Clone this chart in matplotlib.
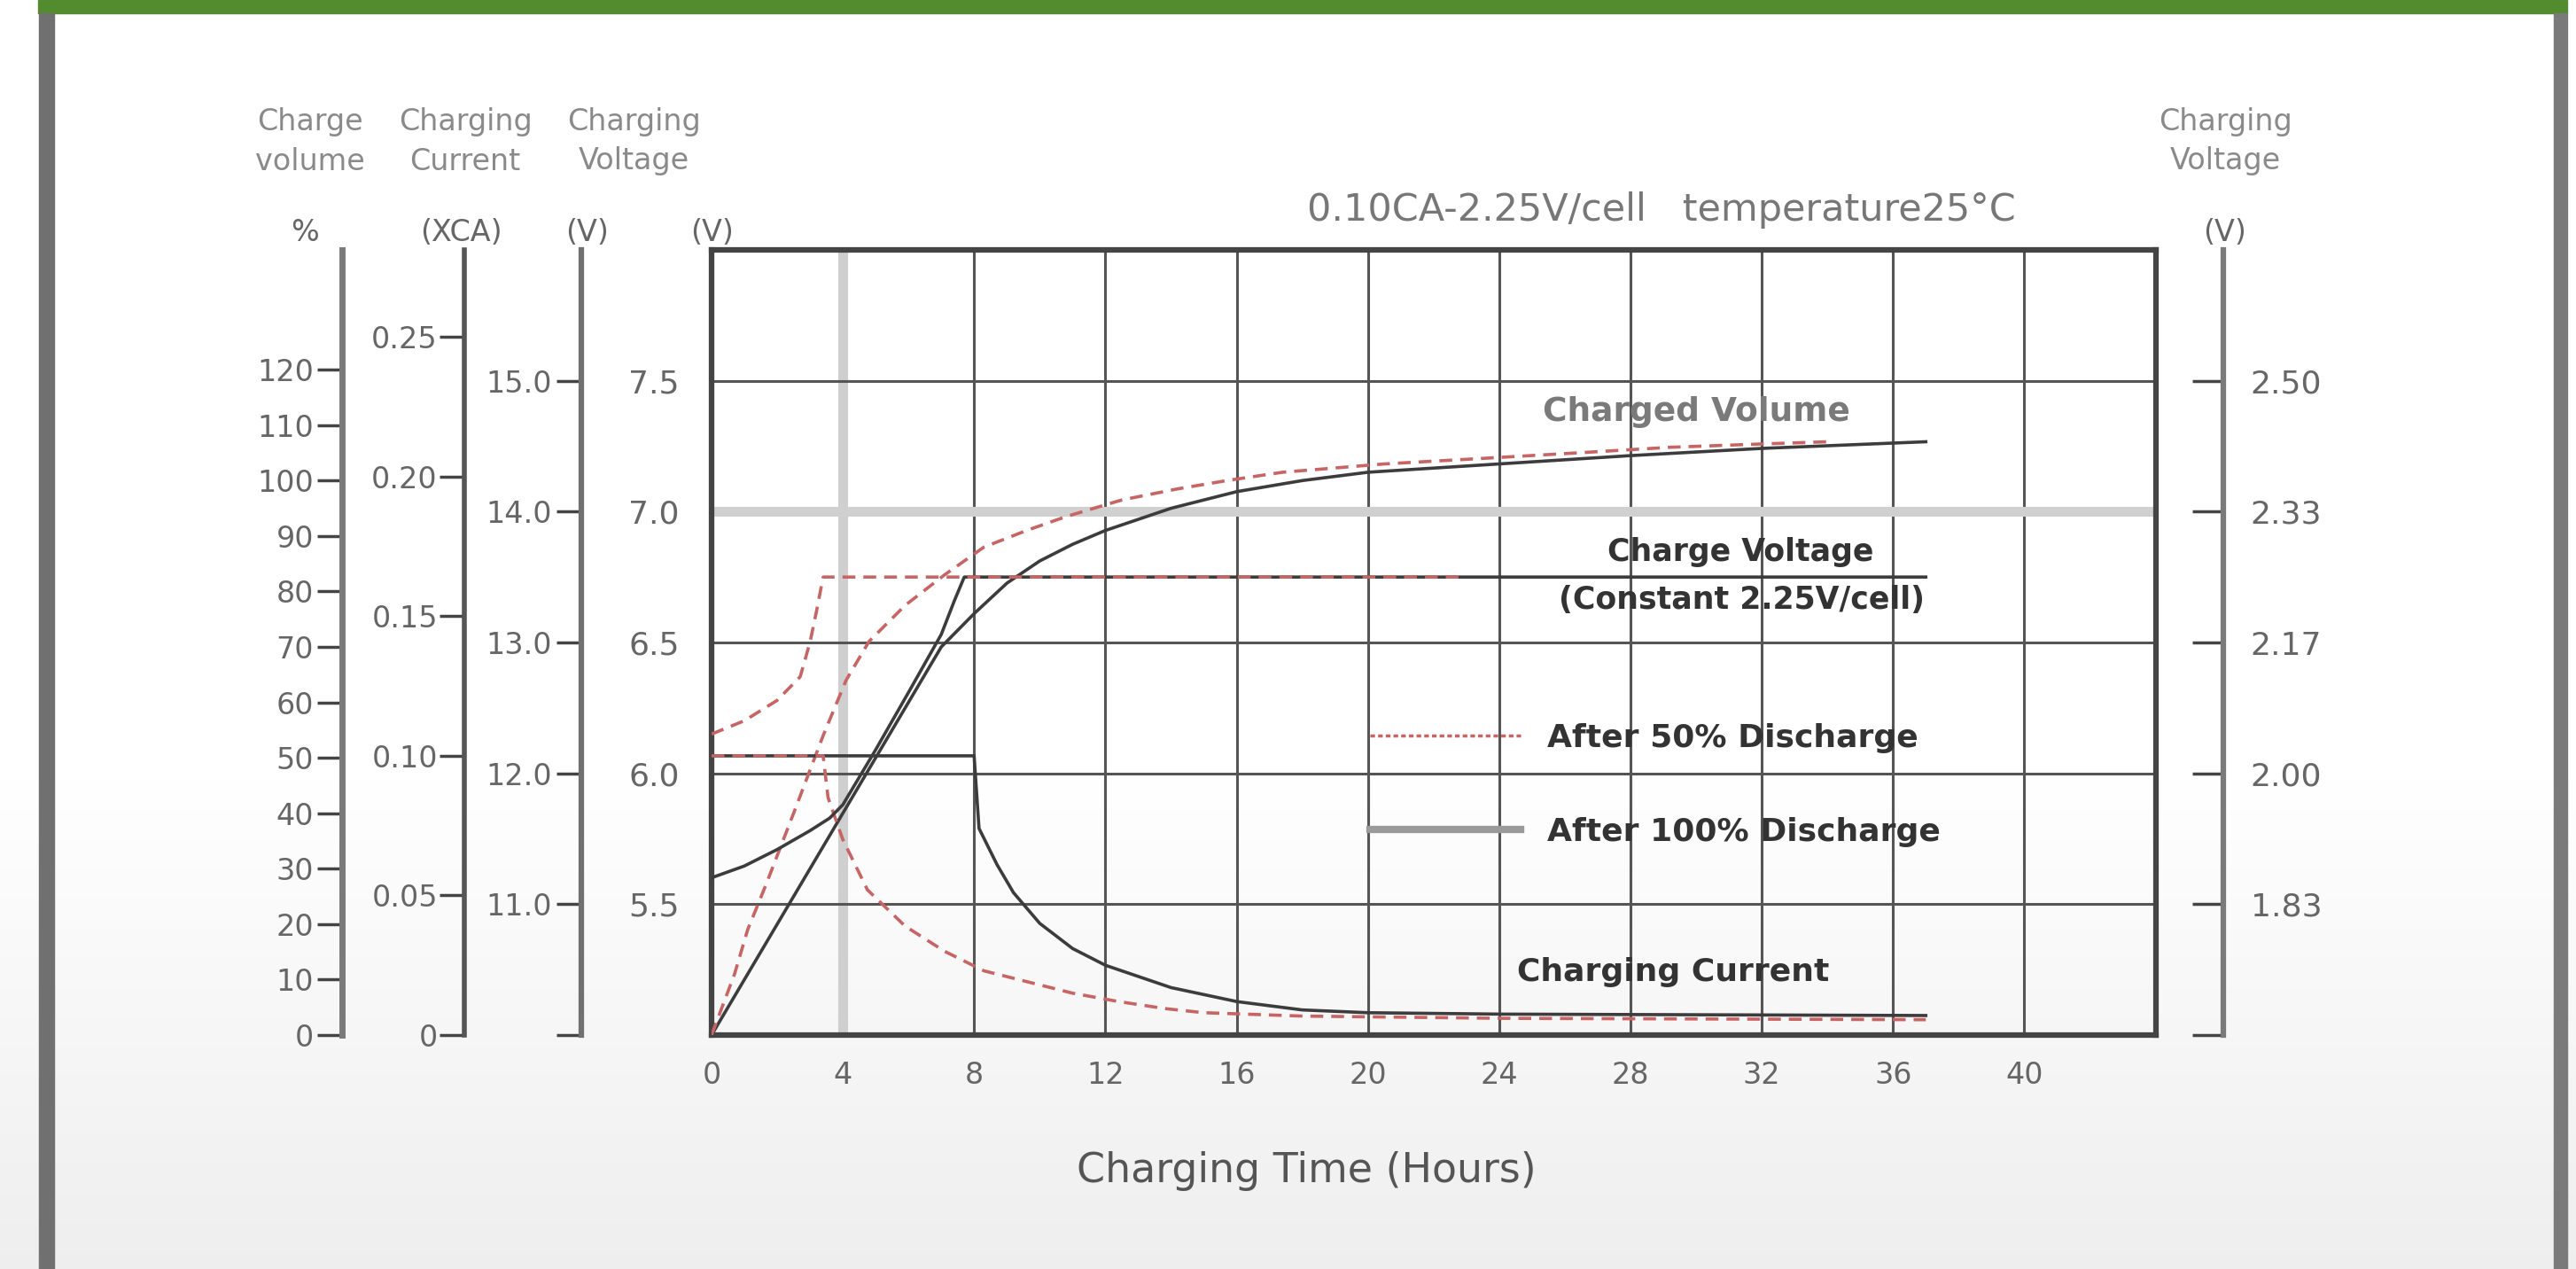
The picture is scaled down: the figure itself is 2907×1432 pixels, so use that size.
import numpy as np
import matplotlib
matplotlib.use("Agg")
import matplotlib.pyplot as plt
from matplotlib.patches import Rectangle
from matplotlib.lines import Line2D

W, H = 2907, 1432

# axes ticks / labels
hour_ticks = [0, 4, 8, 12, 16, 20, 24, 28, 32, 36, 40]
volt6_ticks = [5.5, 6.0, 6.5, 7.0, 7.5]
volt12_ticks = [10.0, 11.0, 12.0, 13.0, 14.0, 15.0]
volt12_labels = ["", "11.0", "12.0", "13.0", "14.0", "15.0"]
pct_ticks = list(range(0, 130, 10))
cur_ticks = [0, 0.05, 0.10, 0.15, 0.20, 0.25]
cur_labels = ["0", "0.05", "0.10", "0.15", "0.20", "0.25"]
cell_ticks = [5 / 3, 11 / 6, 2.0, 13 / 6, 7 / 3, 2.5]
cell_labels = ["", "1.83", "2.00", "2.17", "2.33", "2.50"]

# charged volume (%)
vol100_t = [0, 4, 7, 8, 9, 10, 11, 12, 13, 14, 16, 18, 20, 24, 28, 32, 37]
vol100_pct = [0, 40, 70, 76, 81.5, 85.5, 88.5, 91, 93, 95, 98, 100, 101.5, 103, 104.5, 105.8, 107]
vol50_t = [0, 0.7, 1.1, 1.65, 2.5, 3.4, 4.1, 4.8, 5.9, 7.1, 8.3, 9.6, 10.8, 12.5, 14.2,
           15.7, 17.4, 20.5, 23.5, 26.4, 29.2, 32, 34]
vol50_pct = [0, 11, 19, 27, 40, 54, 64, 71, 77.5, 83, 88, 91, 93.5, 96.5, 98.5,
             100, 101.5, 103, 104, 105, 106, 106.6, 107]

# charging current (xCA)
cur100_t = [0, 8, 8.15, 8.7, 9.2, 10, 11, 12, 14, 16, 18, 20, 24, 37]
cur100_ca = [0.10, 0.10, 0.074, 0.061, 0.051, 0.040, 0.031, 0.025, 0.017, 0.012, 0.009, 0.008, 0.0075, 0.007]
cur50_t = [0, 3.4, 3.55, 4.0, 4.75, 5.9, 7.1, 8.3, 9.65, 11, 12.4, 13.8, 15, 18, 24, 37]
cur50_ca = [0.10, 0.10, 0.085, 0.07, 0.052, 0.039, 0.030, 0.023, 0.019, 0.015, 0.012, 0.0095,
            0.008, 0.0068, 0.006, 0.0055]

# charge voltage (V/cell)
volt100_t = [0, 1, 2, 3, 3.6, 4, 5, 6, 7, 7.4, 7.7, 37]
volt100_cell = [1.867, 1.882, 1.903, 1.927, 1.943, 1.960, 2.030, 2.103, 2.177, 2.220, 2.250, 2.250]
volt50_t = [0, 1, 2, 2.7, 3.0, 3.2, 3.4, 23]
volt50_cell = [2.050, 2.067, 2.093, 2.123, 2.167, 2.207, 2.250, 2.250]

DARK = "#3c3c3c"
RED = "#c86464"
DASH = (0, (4, 2.5))


def fx(px):
    return px / W


def fy(py):
    return 1 - py / H


fig = plt.figure(figsize=(W / 100, H / 100), dpi=100)
fig.patch.set_facecolor("white")

# background: white fading to light grey at the bottom
bg = fig.add_axes([0, 0, 1, 1], zorder=-10)
rows = np.arange(H)
shade = np.where(rows < 880, 1.0, 1.0 - 0.065 * (rows - 880) / (H - 880))
bg.imshow(np.repeat(shade[:, None, None], 3, axis=2), aspect="auto", extent=[0, 1, 0, 1])
bg.axis("off")

# page frame
fig.patches.append(Rectangle((fx(43), fy(15)), fx(2897 - 43), 15 / H,
                             transform=fig.transFigure, color="#528c2e", zorder=5))
fig.patches.append(Rectangle((fx(44), 0), fx(17), fy(15),
                             transform=fig.transFigure, color="#707070", zorder=5))
fig.patches.append(Rectangle((fx(2882), 0), fx(15), fy(15),
                             transform=fig.transFigure, color="#7a7a7a", zorder=5))

# main axes (6V scale)
ax = fig.add_axes([fx(803), fy(1168), (2432.5 - 803) / W, (1168 - 282) / H])
ax.set_facecolor("none")
ax.set_xlim(0, 44)
ax.set_ylim(5, 8)
ax.set_xticks(hour_ticks)
ax.set_yticks(volt6_ticks)
ax.set_yticklabels([f"{v:.1f}" for v in volt6_ticks])
ax.tick_params(axis="x", length=0, pad=21, labelsize=24, labelcolor="#666666")
ax.tick_params(axis="y", length=0, pad=26, labelsize=26, labelcolor="#666666")
for s in ax.spines.values():
    s.set_color("#444444")
    s.set_linewidth(4.5)

for h in hour_ticks[1:]:
    if h == 4:
        ax.axvline(h, color="#cfcfcf", lw=8, zorder=1)
    else:
        ax.axvline(h, color="#555555", lw=2.2, zorder=1)
for v in volt6_ticks:
    if v == 7.0:
        ax.axhline(v, color="#d0d0d0", lw=8, zorder=1)
    else:
        ax.axhline(v, color="#555555", lw=2.2, zorder=1)


def side_axis(pos, ylim, ticks, labels, color, lw, pad):
    a = ax.twinx()
    a.set_ylim(*ylim)
    for name, s in a.spines.items():
        s.set_visible(name == "left")
    a.spines["left"].set_position(("axes", pos))
    a.spines["left"].set_color(color)
    a.spines["left"].set_linewidth(lw)
    a.yaxis.tick_left()
    a.set_yticks(ticks)
    a.set_yticklabels(labels)
    a.tick_params(axis="y", direction="out", length=20, width=2.5, color="#444444",
                  pad=pad, labelsize=24, labelcolor="#666666")
    return a


ax_pct = side_axis(-0.256, (0, 141.6), pct_ticks, [str(p) for p in pct_ticks], "#7a7a7a", 5, 3)
ax_cur = side_axis(-0.171, (0, 0.2812), cur_ticks, cur_labels, "#555555", 4, 2)
ax_v12 = side_axis(-0.090, (10, 16), volt12_ticks, volt12_labels, "#707070", 4.5, 4)

ax_cell = ax.twinx()
ax_cell.set_ylim(5 / 3, 8 / 3)
for name, s in ax_cell.spines.items():
    s.set_visible(name == "right")
ax_cell.spines["right"].set_position(("axes", 1.047))
ax_cell.spines["right"].set_color("#7a7a7a")
ax_cell.spines["right"].set_linewidth(4.5)
ax_cell.set_yticks(cell_ticks)
ax_cell.set_yticklabels(cell_labels)
ax_cell.tick_params(axis="y", direction="in", length=25, width=2.5, color="#444444",
                    pad=22, labelsize=26, labelcolor="#666666")

# curves
ax_pct.plot(vol100_t, vol100_pct, color=DARK, lw=2.6, zorder=3)
ax_pct.plot(vol50_t, vol50_pct, color=RED, lw=2.6, ls=DASH, zorder=4)
ax_cur.plot(cur100_t, cur100_ca, color=DARK, lw=2.6, zorder=3)
ax_cur.plot(cur50_t, cur50_ca, color=RED, lw=2.6, ls=DASH, zorder=4)
ax_cell.plot(volt100_t, volt100_cell, color=DARK, lw=2.6, zorder=3)
ax_cell.plot(volt50_t, volt50_cell, color=RED, lw=2.6, ls=DASH, zorder=4)

# annotations
ann = dict(transform=ax.transData, ha="center", va="center", fontweight="bold")
ax_cell.text(30.0, 7.38, "Charged Volume", fontsize=27, color="#7a7a7a", **ann)
ax_cell.text(31.35, 6.846, "Charge Voltage", fontsize=25, color="#333333", **ann)
ax_cell.text(31.4, 6.663, "(Constant 2.25V/cell)", fontsize=25, color="#333333", **ann)
ax_cell.text(29.3, 5.24, "Charging Current", fontsize=26, color="#333333", **ann)

handles = [Line2D([], [], color=RED, lw=2.5, ls=(0, (1.5, 1))),
           Line2D([], [], color="#9a9a9a", lw=6)]
leg = ax_cell.legend(handles, ["After 50% Discharge", "After 100% Discharge"],
                     loc="center left", bbox_to_anchor=(20.06, 5.955),
                     bbox_transform=ax.transData, frameon=False, borderpad=0,
                     borderaxespad=0, handlelength=4.7, handletextpad=0.85,
                     labelspacing=2.0, prop=dict(size=26, weight="bold"))
for t in leg.get_texts():
    t.set_color("#333333")

# headers and units
hdr = dict(ha="center", va="center", fontsize=24, color="#8a8a8a")
for x, l1, l2 in [(350, "Charge", "volume"), (525, "Charging", "Current"),
                  (715, "Charging", "Voltage"), (2511, "Charging", "Voltage")]:
    fig.text(fx(x), fy(137), l1, **hdr)
    fig.text(fx(x), fy(182), l2, **hdr)
unit = dict(ha="center", va="center", fontsize=24, color="#666666")
for x, u in [(344, "%"), (520, "(XCA)"), (663, "(V)"), (804, "(V)"), (2511, "(V)")]:
    fig.text(fx(x), fy(263), u, **unit)

fig.text(fx(1875), fy(237), "0.10CA-2.25V/cell   temperature25°C",
         ha="center", va="center", fontsize=31, color="#777777")
fig.text(fx(1474), fy(1322), "Charging Time (Hours)",
         ha="center", va="center", fontsize=33, color="#555555")

fig.savefig("out.png", dpi=100)
